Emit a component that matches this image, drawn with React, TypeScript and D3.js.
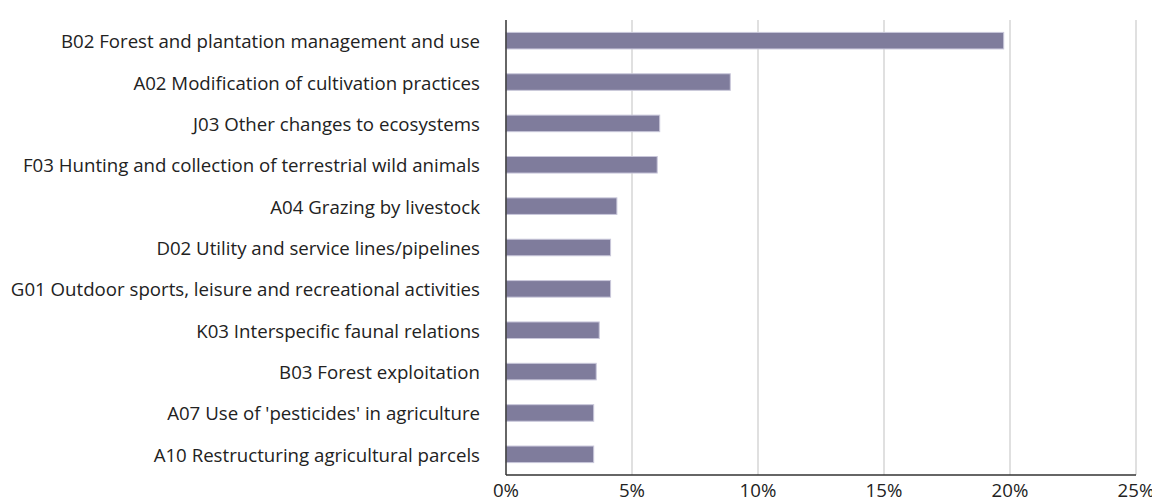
import React from "react";
import * as d3 from "d3";

const categories = [
  "B02 Forest and plantation management and use",
  "A02 Modification of cultivation practices",
  "J03 Other changes to ecosystems",
  "F03 Hunting and collection of terrestrial wild animals",
  "A04 Grazing by livestock",
  "D02 Utility and service lines/pipelines",
  "G01 Outdoor sports, leisure and recreational activities",
  "K03 Interspecific faunal relations",
  "B03 Forest exploitation",
  "A07 Use of 'pesticides' in agriculture",
  "A10 Restructuring agricultural parcels",
];
const values = [19.75, 8.9, 6.1, 6.0, 4.4, 4.15, 4.15, 3.7, 3.58, 3.48, 3.48];
const ticks = [0, 5, 10, 15, 20, 25];

const W = 1152;
const H = 497;
const left = 506;
const right = 1136;
const top = 20;
const bottom = 475;

export default function App() {
  const x = d3.scaleLinear().domain([0, 25]).range([left, right]);
  const y = d3.scaleBand().domain(categories).range([top, bottom]).paddingInner(0.6).paddingOuter(0.3);
  const font = "'Open Sans', sans-serif";
  const fs = 18.66;
  return (
    <svg width={W} height={H} style={{ position: "absolute", left: 0, top: 0 }}>
      <rect width={W} height={H} fill="#fff" />
      {ticks.slice(1).map((t) => (
        <line key={t} x1={x(t)} x2={x(t)} y1={top} y2={bottom} stroke="#d6d6d6" strokeWidth={1.5} />
      ))}
      {categories.map((c, i) => (
        <rect
          key={c}
          x={x(0)}
          y={y(c)!}
          width={x(values[i]) - x(0)}
          height={y.bandwidth()}
          fill="#7f7c9c"
          stroke="#c9c7da"
          strokeWidth={1}
        />
      ))}
      <line x1={left} x2={left} y1={top} y2={bottom} stroke="#333" strokeWidth={1.5} />
      <line x1={left} x2={right} y1={bottom} y2={bottom} stroke="#333" strokeWidth={1.5} />
      {categories.map((c) => (
        <text
          key={c}
          x={480}
          y={y(c)! + y.bandwidth() / 2}
          textAnchor="end"
          dominantBaseline="central"
          fontFamily={font}
          fontSize={fs}
          fill="#222"
        >
          {c}
        </text>
      ))}
      {ticks.map((t) => (
        <text
          key={t}
          x={x(t)}
          y={497}
          textAnchor="middle"
          fontFamily={font}
          fontSize={fs}
          fill="#222"
        >
          {t}%
        </text>
      ))}
    </svg>
  );
}
